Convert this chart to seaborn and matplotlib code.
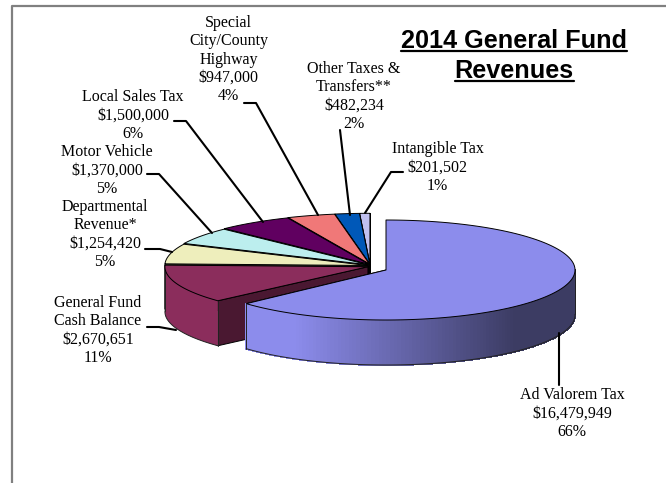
import numpy as np
import matplotlib
matplotlib.use("Agg")
import matplotlib.pyplot as plt
import seaborn as sns

# ---- data ----
categories = ["Ad Valorem Tax", "General Fund\nCash Balance", "Departmental\nRevenue*",
              "Motor Vehicle", "Local Sales Tax", "Special\nCity/County\nHighway",
              "Other Taxes &\nTransfers**", "Intangible Tax"]
amounts = [16479949, 2670651, 1254420, 1370000, 1500000, 947000, 482234, 201502]
amount_labels = ["$16,479,949", "$2,670,651", "$1,254,420", "$1,370,000",
                 "$1,500,000", "$947,000", "$482,234", "$201,502"]
percent_labels = ["66%", "11%", "5%", "5%", "6%", "4%", "2%", "1%"]
top_colors = ["#8C8CEC", "#8B2D5C", "#EEEEBC", "#BCEEEE", "#600060", "#F07878", "#0058B8", "#C0C0F0"]

# ---- style ----
sns.set_theme(style="white")
plt.rcParams["font.family"] = ["Liberation Serif", "DejaVu Serif"]
palette = sns.color_palette(top_colors)

fig = plt.figure(figsize=(6.66, 4.83), dpi=100)
ax = fig.add_axes([0, 0, 1, 1])
ax.set_xlim(0, 666)
ax.set_ylim(483, 0)
ax.axis("off")

DEPTH = 45
N = len(amounts)


def warp(theta):
    """Screen angle of the tilted pie: the front-left part is foreshortened."""
    return theta + 10.6 * np.clip((theta - 158.0) / 54.4, 0, 1) ** 0.6


shares = np.array(amounts, dtype=float) / np.sum(amounts)
edges = 90 - 360 * np.concatenate([[0], np.cumsum(shares)])
edges = np.where(edges < 0, edges + 360, edges)  # after the first slice all are in 90..212


def point(c, rx, ry, th):
    t = np.radians(th)
    return c[0] + rx * np.cos(t), c[1] - ry * np.sin(t)


def draw_slice(c, rx, ry, start, stop, color, gradient=False):
    """Slice from angle start to stop (stop > start, screen degrees)."""
    dark = tuple(0.53 * np.array(color))
    th = np.linspace(start, stop, 200)
    x, y = point(c, rx, ry, th)
    # radial walls
    for a in (start, stop):
        px, py = point(c, rx, ry, a)
        ax.fill([c[0], px, px, c[0]], [c[1], py, py + DEPTH, c[1] + DEPTH],
                fc=dark, ec="black", lw=0.7, zorder=z[0])
        z[0] += 1
    # outer rim
    front = th[(np.sin(np.radians(th)) < 0.02)]
    if len(front) > 1:
        if gradient:
            light = np.array(color)
            deep = np.array([0.235, 0.235, 0.39])
            for a, b in zip(front[:-1], front[1:]):
                xa, ya = point(c, rx, ry, a)
                xb, yb = point(c, rx, ry, b)
                f = np.clip((0.5 * (xa + xb) - 295) / 220, 0, 1)
                col = tuple(light + (deep - light) * f)
                ax.fill([xa, xb, xb, xa], [ya, yb, yb + DEPTH, ya + DEPTH],
                        fc=col, ec=col, lw=0.8, antialiased=False, zorder=z[0])
        else:
            fx, fy = point(c, rx, ry, front)
            ax.fill(np.r_[fx, fx[::-1]], np.r_[fy, fy[::-1] + DEPTH],
                    fc=color, ec="none", zorder=z[0])
        z[0] += 1
        fx, fy = point(c, rx, ry, front)
        ax.plot(fx, fy + DEPTH, color="#222222", lw=0.7, zorder=z[0])
        ax.plot([fx[0], fx[0]], [fy[0], fy[0] + DEPTH], color="#222222", lw=0.7, zorder=z[0])
        ax.plot([fx[-1], fx[-1]], [fy[-1], fy[-1] + DEPTH], color="#222222", lw=0.7, zorder=z[0])
        z[0] += 1
    # top face
    ax.fill(np.r_[c[0], x], np.r_[c[1], y], fc=color, ec="black", lw=0.7,
            joinstyle="round", zorder=z[0])
    z[0] += 1


z = [2]
# small slices, back to front (last category first)
for i in range(N - 1, 0, -1):
    a0 = warp(edges[i + 1])
    a1 = warp(edges[i])
    mid = np.radians(0.5 * (a0 + a1))
    c = (370 + 2.2 * np.cos(mid), 266 - 2.2 * np.sin(mid))
    draw_slice(c, 203, 50.5, a0, a1, palette[i])

# the large, pulled-out slice
draw_slice((386, 270), 189, 50, warp(edges[1]), 450, palette[0], gradient=True)

# ---- labels ----
label_x = [572, 98, 105, 107, 133, 228.5, 354, 437.5]
label_y = [395, 303, 207, 152, 97, 23, 69, 149]
LINE = 18.3
for i in range(N):
    lines = categories[i].split("\n") + [amount_labels[i], percent_labels[i]]
    for j, s in enumerate(lines):
        ax.text(label_x[i], label_y[i] + j * LINE, s, ha="center", va="center",
                fontsize=11.5, color="black", zorder=100)

# ---- leader lines ----
leaders = [
    ([559, 559], [333, 385]),
    ([147, 159, 176], [327, 327, 330]),
    ([145, 160, 172], [249, 249, 252]),
    ([147, 159, 212], [174, 174, 233]),
    ([174, 186, 263], [121, 121, 222]),
    ([244, 256, 318], [103, 103, 215]),
    ([340, 350], [130, 215]),
    ([403, 391, 365], [172, 172, 213]),
]
for lx, ly in leaders:
    ax.plot(lx, ly, color="black", lw=1.5, solid_joinstyle="round", zorder=90)

# ---- title ----
sans = ["Liberation Sans", "DejaVu Sans"]
ax.text(514, 41, "2014 General Fund", ha="center", va="center", fontsize=18.2,
        fontweight="bold", family=sans, color="black", zorder=100)
ax.text(514, 71, "Revenues", ha="center", va="center", fontsize=18.2,
        fontweight="bold", family=sans, color="black", zorder=100)
ax.plot([401, 627], [50.5, 50.5], color="black", lw=1.6, zorder=100)
ax.plot([455, 574], [81, 81], color="black", lw=1.6, zorder=100)

# ---- page frame ----
ax.plot([12, 12, 666], [483, 5.5, 5.5], color="#808080", lw=1.6, zorder=1, clip_on=False)

fig.savefig("out.png", dpi=100)
